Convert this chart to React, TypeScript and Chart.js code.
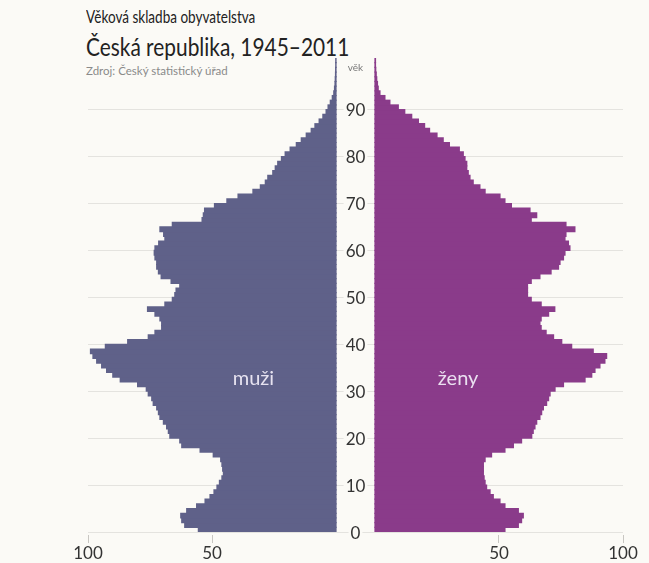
import React, { useEffect, useRef } from "react";
import { Chart, registerables } from "chart.js";

Chart.register(...registerables);

const BG = "#fbfaf6";
const MALE_COLOR = "#5f6189";
const FEMALE_COLOR = "#8a3b8a";
const FONT = "Lato";

// age categories (bar spans age .. age+1)
const ages: number[] = Array.from({ length: 101 }, (_, i) => i);

// population by single year of age, thousands
const maleValues: number[] = [
  55.5, 61, 62.2, 62.6, 60.2, 56.2, 52.8, 50.8, 49.2, 48,
  47, 46, 45.4, 45.7, 46, 46.5, 49.5, 54.8, 62.2, 63,
  67, 67.6, 68.3, 69.6, 71, 71.6, 72.3, 73.7, 74.3, 75.7,
  76.5, 80, 87, 90, 92.5, 94.5, 96.5, 98, 99, 93,
  84, 75.7, 73, 70.3, 70.3, 71, 73, 76, 69, 66,
  65, 64.5, 63, 66.5, 70.5, 71.6, 72.3, 72.3, 73, 73.3,
  73, 71.5, 69, 69.5, 71, 66, 54, 53.5, 53, 49,
  44, 39.5, 33.5, 30.5, 28.5, 27.5, 25.5, 24.5, 23.5, 22,
  20.5, 18.5, 16, 14, 12, 10, 8.5, 6.8, 5.3, 4,
  3.2, 2.3, 1.5, 0.9, 0.6, 0.4, 0.3, 0.2, 0.15, 0.1, 0.1,
];

const femaleValues: number[] = [
  52.4, 57.8, 59.1, 59.8, 57.8, 52.4, 50.4, 47.7, 46.4, 45,
  44.4, 44, 43.7, 43.7, 43.7, 44.4, 47, 52.4, 55.8, 59.1,
  63.2, 63.8, 64.5, 65.2, 66.5, 67.2, 67.9, 69.2, 70, 70.6,
  72.6, 76, 84.7, 87.4, 88.7, 90.7, 92.7, 93.4, 88, 79.3,
  75.3, 72, 69, 67, 66.5, 67, 70, 72.5, 67, 63,
  61.5, 61.5, 61.5, 63, 66.5, 71, 74, 74.6, 76, 76.6,
  78.6, 78, 76.6, 77, 80.6, 77, 63, 65.2, 62.5, 55,
  52.4, 50.4, 44.4, 42.3, 39.6, 38.3, 37.6, 37, 37, 36.3,
  35.6, 34, 30, 27.5, 25, 22, 20, 17.5, 14.8, 12,
  9.4, 6, 4, 2, 1.3, 1, 0.7, 0.5, 0.3, 0.2, 0.2,
];

const xTickLabels: number[] = [100, 50];
const yTickLabels: number[] = [0, 10, 20, 30, 40, 50, 60, 70, 80, 90];

const GAP = 7.86; // half of the central gap, in value units
const X_LIMIT = 100;
const AGE_LIMIT = 101;

const labelsPlugin = {
  id: "pyramidLabels",
  afterDraw(chart: any) {
    const { ctx, scales, chartArea } = chart;
    const xs = scales.x;
    const ys = scales.y;
    const cx = xs.getPixelForValue(0);
    ctx.save();
    ctx.textAlign = "center";
    ctx.textBaseline = "middle";
    ctx.font = `17px ${FONT}`;
    for (const v of yTickLabels) {
      const py = ys.getPixelForValue(v);
      const label = String(v);
      const w = ctx.measureText(label).width;
      ctx.fillStyle = BG;
      ctx.fillRect(cx - w / 2 - 2, py - 6, w + 4, 12);
      ctx.fillStyle = "#333333";
      ctx.fillText(label, cx, py + 1);
    }
    ctx.font = `10px ${FONT}`;
    ctx.fillStyle = "#777777";
    ctx.fillText("věk", cx, chartArea.top + 10);
    ctx.font = `20px ${FONT}`;
    ctx.fillStyle = "rgba(242,238,248,0.92)";
    ctx.fillText("muži", xs.getPixelForValue(-(GAP + 33.3)), ys.getPixelForValue(32.6));
    ctx.fillText("ženy", xs.getPixelForValue(GAP + 33.5), ys.getPixelForValue(32.6));
    ctx.restore();
  },
};

export default function App() {
  const ref = useRef<HTMLCanvasElement>(null);
  useEffect(() => {
    const xTickValues: number[] = [];
    xTickLabels.forEach((t) => {
      xTickValues.push(-(GAP + t));
      xTickValues.push(GAP + t);
    });
    xTickValues.sort((a, b) => a - b);
    const chart = new Chart(ref.current as HTMLCanvasElement, {
      type: "bar",
      data: {
        datasets: [
          {
            label: "muži",
            data: ages.map((a, i) => ({ y: a + 0.5, x: [-(GAP + maleValues[i]), -GAP] })) as any,
            backgroundColor: MALE_COLOR,
            borderWidth: 0,
            grouped: false,
            barPercentage: 1,
            categoryPercentage: 1,
            inflateAmount: 0.6,
          } as any,
          {
            label: "ženy",
            data: ages.map((a, i) => ({ y: a + 0.5, x: [GAP, GAP + femaleValues[i]] })) as any,
            backgroundColor: FEMALE_COLOR,
            borderWidth: 0,
            grouped: false,
            barPercentage: 1,
            categoryPercentage: 1,
            inflateAmount: 0.6,
          } as any,
        ],
      },
      options: {
        indexAxis: "y",
        animation: false,
        responsive: false,
        maintainAspectRatio: false,
        layout: { padding: { left: 88, right: 26, top: 58, bottom: -1.6 } },
        plugins: {
          legend: { display: false },
          tooltip: { enabled: false },
        },
        scales: {
          x: {
            type: "linear",
            min: -(GAP + X_LIMIT),
            max: GAP + X_LIMIT,
            afterBuildTicks: (s: any) => {
              s.ticks = xTickValues.map((v) => ({ value: v }));
            },
            ticks: {
              autoSkip: false,
              maxRotation: 0,
              padding: 1,
              color: "#333333",
              font: { family: FONT, size: 17, lineHeight: 1.15 },
              callback: (v: any) => String(Math.round(Math.abs(Number(v)) - GAP)),
            },
            grid: {
              drawOnChartArea: false,
              drawTicks: true,
              tickLength: 11,
              tickBorderDash: [0, 3, 20],
              color: "#c8c6c2",
            },
            border: { display: false },
          },
          y: {
            type: "linear",
            min: 0,
            max: AGE_LIMIT,
            offset: false,
            z: 1,
            afterBuildTicks: (s: any) => {
              s.ticks = yTickLabels.map((v) => ({ value: v }));
            },
            ticks: { display: false },
            grid: { color: "rgba(0,0,0,0.09)", drawTicks: false, offset: false },
            border: { display: false },
          },
        },
      } as any,
      plugins: [labelsPlugin],
    });
    return () => chart.destroy();
  }, []);

  const textBase: React.CSSProperties = {
    position: "absolute",
    left: 86,
    whiteSpace: "nowrap",
    fontFamily: FONT,
    color: "#222222",
    transformOrigin: "left top",
  };

  return (
    <div
      style={{
        position: "absolute",
        left: 0,
        top: 0,
        width: 649,
        height: 563,
        background: BG,
        overflow: "hidden",
      }}
    >
      <div style={{ ...textBase, top: 9, fontSize: 16.5, lineHeight: "16px", transform: "scaleX(0.82)" }}>
        Věková skladba obyvatelstva
      </div>
      <div style={{ ...textBase, top: 34, fontSize: 25, lineHeight: "25px", transform: "scaleX(0.835)" }}>
        Česká republika, 1945–2011
      </div>
      <div style={{ ...textBase, top: 65, fontSize: 11.5, lineHeight: "12px", color: "#8a8a8a" }}>
        Zdroj: Český statistický úřad
      </div>
      <canvas ref={ref} width={649} height={563} style={{ position: "absolute", left: 0, top: 0 }} />
    </div>
  );
}
